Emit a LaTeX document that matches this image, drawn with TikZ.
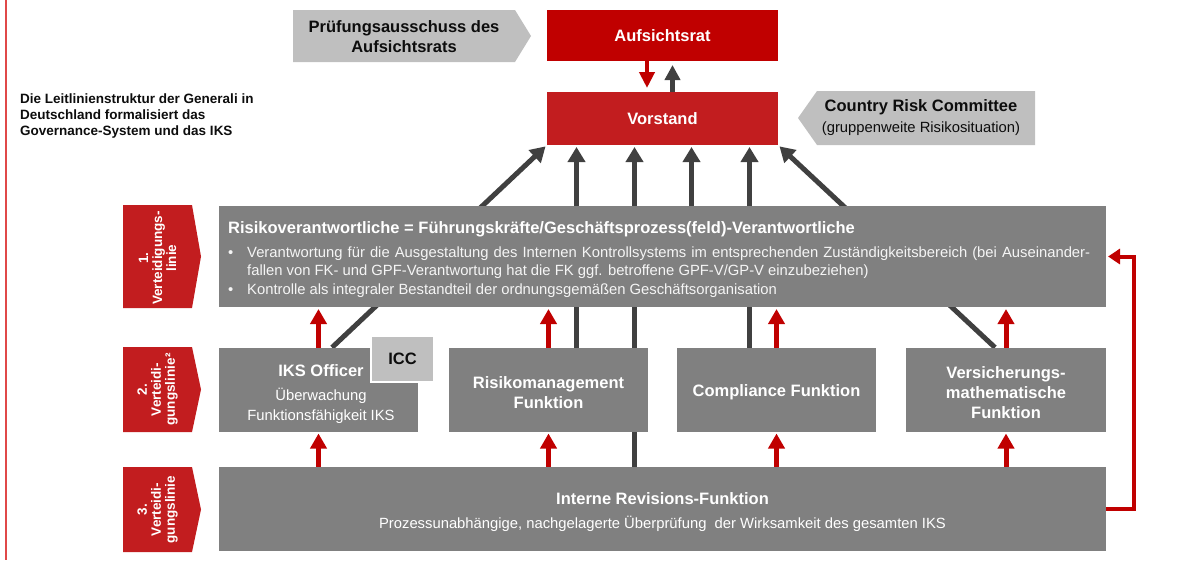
\documentclass[tikz,border=0pt]{standalone}
\usepackage{fontspec}
\setmainfont{Liberation Sans}
\usepackage{tikz}
\usetikzlibrary{arrows.meta}
\pgfdeclarelayer{background}
\pgfsetlayers{background,main}

\definecolor{aufsichtred}{RGB}{192, 0, 0}
\definecolor{vorstandred}{RGB}{194, 29, 31}
\definecolor{boxgray}{RGB}{128, 128, 128}
\definecolor{panelgray}{RGB}{191, 191, 191}
\definecolor{arrowdark}{RGB}{64, 64, 64}
\definecolor{edgered}{RGB}{224, 72, 72}
\definecolor{inkblack}{RGB}{13, 13, 13}
\definecolor{bullettext}{RGB}{245, 245, 245}

\newcommand{\headfont}{\fontsize{16.5}{20}\selectfont\bfseries}
\newcommand{\bodyfont}{\fontsize{14.8}{18.5}\selectfont\mdseries}
\newcommand{\tagfont}{\fontsize{13.5}{14}\selectfont\bfseries}
\newcommand{\notefont}{\fontsize{13.5}{16}\selectfont\bfseries}
\newcommand{\bulletitem}[1]{\noindent\hangindent=19pt\hangafter=1\makebox[19pt][l]{\textbullet}#1\par}

\tikzset{
    box/.style={rectangle, inner sep=0pt, outer sep=0pt, text=white, align=center},
    redbox/.style={box, minimum width=231pt, font=\headfont},
    funcbox/.style={box, fill=boxgray, minimum width=199pt, minimum height=84pt, font=\headfont},
    widebox/.style={box, fill=boxgray, minimum width=887pt},
    lighttext/.style={inner sep=0pt, align=center, text=inkblack},
    boxtext/.style={inner sep=0pt, align=center, text=white, font=\headfont},
    tagtext/.style={inner sep=0pt, align=center, rotate=90, text=white, font=\tagfont},
    darkarrow/.style={draw=arrowdark, line width=5pt, shorten >=2pt, -{Triangle[width=17pt,length=15pt]}},
    redarrow/.style={draw=aufsichtred, line width=5pt, shorten >=2pt, -{Triangle[width=16pt,length=15pt]}},
    loopline/.style={draw=aufsichtred, line width=4pt, shorten >=2pt, -{Triangle[width=15pt,length=12pt]}},
}

\begin{document}
\begin{tikzpicture}[x=1pt, y=-1pt]
    \useasboundingbox (0,0) rectangle (1190,560);
    \draw[edgered, line width=2pt] (5.7,0) -- (5.7,560);

    % Aufsichtsrat und Vorstand
    \fill[panelgray] (293,10) -- (515,10) -- (531,36) -- (515,62) -- (293,62) -- cycle;
    \node[lighttext, font=\headfont] (pruefung) at (404,37) {Prüfungsausschuss des\\Aufsichtsrats};
    \node[redbox, fill=aufsichtred, minimum height=51pt] (aufsichtsrat) at (662.5,35.5) {Aufsichtsrat};
    \node[redbox, fill=vorstandred, minimum height=53pt] (vorstand) at (662.5,118.5) {Vorstand};
    \fill[panelgray] (798,118) -- (817,91) -- (1035,91) -- (1035,145) -- (817,145) -- cycle;
    \node[lighttext, font=\headfont] (country) at (921,118) {Country Risk Committee\\[1pt]\bodyfont (gruppenweite Risikosituation)};

    \node[anchor=north west, inner sep=0pt, align=left, text=inkblack, font=\notefont] (note) at (20,94) {Die Leitlinienstruktur der Generali in\\Deutschland formalisiert das\\Governance-System und das IKS};

    % Verteidigungslinien
    \fill[vorstandred] (123,205) -- (192,205) -- (201,256.5) -- (192,308) -- (123,308) -- cycle;
    \node[tagtext] (tag1) at (157.5,258) {1.\\Verteidigungs-\\linie};
    \fill[vorstandred] (123,347) -- (192,347) -- (201,389.5) -- (192,432) -- (123,432) -- cycle;
    \node[tagtext] (tag2) at (157.5,389.5) {2.\\Verteidi-\\gungslinie²};
    \fill[vorstandred] (123,467) -- (192,467) -- (201,509.5) -- (192,552) -- (123,552) -- cycle;
    \node[tagtext] (tag3) at (157.5,509.5) {3.\\Verteidi-\\gungslinie};

    % 1. Linie
    \node[widebox, minimum height=101pt] (linie1) at (662.5,256.5) {};
    \node[anchor=west, inner sep=0pt, text=white, font=\headfont] (linie1-title) at (228,229.5) {Risikoverantwortliche = Führungskräfte/Geschäftsprozess(feld)-Verantwortliche};
    \node[anchor=north west, inner sep=0pt, text=bullettext, font=\bodyfont, text width=862pt, align=justify] (linie1-items) at (228,246.5) {%
        \bulletitem{Verantwortung für die Ausgestaltung des Internen Kontrollsystems im entsprechenden Zuständigkeitsbereich (bei Auseinander-\linebreak fallen von FK- und GPF-Verantwortung hat die FK ggf. betroffene GPF-V/GP-V einzubeziehen)}%
        \bulletitem{Kontrolle als integraler Bestandteil der ordnungsgemäßen Geschäftsorganisation}};

    % 2. Linie
    \node[funcbox] (iks) at (318.5,389.5) {};
    \node[boxtext] (iks-text) at (321,394) {IKS Officer\\[4pt]\bodyfont Überwachung\\\bodyfont Funktionsfähigkeit IKS};
    \node[box, fill=panelgray, draw=white, line width=1.5pt, minimum width=63pt, minimum height=46pt, text=inkblack, font=\headfont] (icc) at (402.5,359) {ICC};
    \node[funcbox] (risiko) at (548.5,389.5) {};
    \node[boxtext] (risiko-text) at (548.5,392.5) {Risikomanagement\\Funktion};
    \node[funcbox] (compliance) at (776.5,389.5) {};
    \node[boxtext] (compliance-text) at (776.5,392) {Compliance Funktion};
    \node[funcbox, minimum width=200pt] (versmath) at (1006,389.5) {};
    \node[boxtext] (versmath-text) at (1006,392.5) {Versicherungs-\\mathematische\\Funktion};

    % 3. Linie
    \node[widebox, minimum height=84pt] (revision) at (662.5,509) {};
    \node[boxtext] (revision-text) at (662.5,512.5) {Interne Revisions-Funktion\\[4pt]\bodyfont Prozessunabhängige, nachgelagerte Überprüfung\ \ der Wirksamkeit des gesamten IKS};

    \begin{pgfonlayer}{background}
        % Berichtslinien an den Vorstand
        \draw[darkarrow] ([xshift=13.5pt]iks.north) -- (vorstand.south west);
        \draw[darkarrow] ([xshift=-86pt]vorstand.south |- risiko.north) -- ([xshift=-86pt]vorstand.south);
        \draw[darkarrow] ([xshift=-28pt]vorstand.south |- revision.north) -- ([xshift=-28pt]vorstand.south);
        \draw[darkarrow] ([xshift=29pt]vorstand.south |- linie1.north) -- ([xshift=29pt]vorstand.south);
        \draw[darkarrow] ([xshift=87pt]vorstand.south |- compliance.north) -- ([xshift=87pt]vorstand.south);
        \draw[darkarrow] ([xshift=-11pt]versmath.north) -- (vorstand.south east);

        \draw[redarrow, line width=4.5pt, shorten >=4pt, -{Triangle[width=15pt,length=16pt]}] ([xshift=-15.5pt]aufsichtsrat.south) -- ([xshift=-15.5pt]vorstand.north);
        \draw[darkarrow, line width=4.5pt, shorten >=4pt, -{Triangle[width=15pt,length=15pt]}] ([xshift=10pt]vorstand.north) -- ([xshift=10pt]aufsichtsrat.south);

        % Zwischen den Linien
        \draw[redarrow] (iks.north) -- (iks.north |- linie1.south);
        \draw[redarrow] (risiko.north) -- (risiko.north |- linie1.south);
        \draw[redarrow] (compliance.north) -- (compliance.north |- linie1.south);
        \draw[redarrow] (versmath.north) -- (versmath.north |- linie1.south);
        \draw[redarrow] (revision.north -| iks.north) -- (iks.south);
        \draw[redarrow] (revision.north -| risiko.north) -- (risiko.south);
        \draw[redarrow] (revision.north -| compliance.north) -- (compliance.south);
        \draw[redarrow] (revision.north -| versmath.north) -- (versmath.south);

        \draw[loopline] (revision.east) -- ++(28,0) |- (linie1.east);
    \end{pgfonlayer}
\end{tikzpicture}
\end{document}
